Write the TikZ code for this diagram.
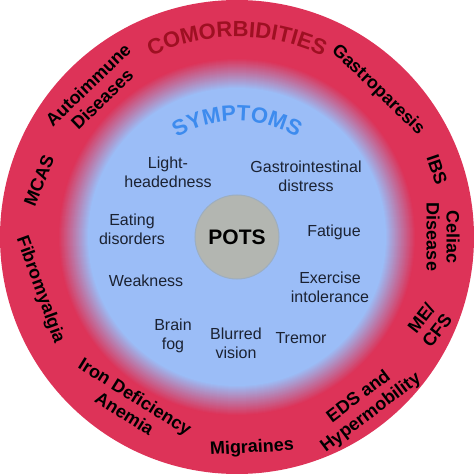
\documentclass[tikz,border=0pt]{standalone}
\usepackage{fontspec}
\setmainfont{Liberation Sans}
\usepackage{tikz}
\usetikzlibrary{decorations.text}

\definecolor{ringred}{HTML}{DD3358}
\definecolor{symblue}{HTML}{9BBDF7}
\definecolor{comred}{HTML}{9E1022}
\definecolor{symtitle}{HTML}{3D8BEE}
\definecolor{potsgray}{HTML}{B3B6B1}
\definecolor{potsedge}{HTML}{9DAEC0}
\definecolor{symtext}{HTML}{1B2232}

\begin{document}
\begin{tikzpicture}[x=1pt,y=1pt,
		comorb/.style={font=\fontsize{18}{20}\selectfont\bfseries, text=black, align=center, inner sep=0pt},
		symptom/.style={font=\fontsize{16}{19}\selectfont, text=symtext, align=center, inner sep=0pt}]
			\useasboundingbox (-237,-237) rectangle (237,237);
			% red ring fading into the blue disc
			\fill[ringred] (0,0) circle (237pt);
			\foreach \r in {179,178,...,149} {
				\pgfmathtruncatemacro\mix{(179-\r)*100/30}
				\fill[symblue!\mix!ringred] (0,0) circle (\r pt);
			}

			% ring titles
			\path[decorate, decoration={text along path, text align=center, text color=comred,
				text format delimiters={|}{|},
				text={|\fontsize{22}{22}\selectfont\bfseries|COMORBIDITIES}}]
				(150:200) arc[start angle=150, end angle=30, radius=200pt];
			\path[decorate, decoration={text along path, text align=center, text color=symtitle,
				text format delimiters={|}{|},
				text={|\fontsize{22}{22}\selectfont\bfseries|SYMPTOMS}}]
				(150:116) arc[start angle=150, end angle=30, radius=116pt];

			% comorbidities
			\node[comorb, rotate=44] (autoimm) at (-142,145) {Autoimmune\\Diseases};
			\node[comorb, rotate=-44] (gastro) at (141,147) {Gastroparesis};
			\node[comorb, rotate=-71] (ibs) at (200,67) {IBS};
			\node[comorb, rotate=-90] (celiac) at (206,0) {Celiac\\Disease};
			\node[comorb, rotate=52] (mecfs) at (192,-87) {ME/\\CFS};
			\node[comorb, rotate=37] (eds) at (128,-168) {EDS and\\Hypermobility};
			\node[comorb, rotate=3] (migraine) at (15,-211) {Migraines};
			\node[comorb, rotate=-32] (iron) at (-107,-168) {Iron Deficiency\\Anemia};
			\node[comorb, rotate=-70] (fibro) at (-197,-53) {Fibromyalgia};
			\node[comorb, rotate=68] (mcas) at (-198,56) {MCAS};

			% center
			\node[circle, fill=potsgray, draw=potsedge, line width=1pt, minimum size=84pt,
				font=\fontsize{21}{21}\selectfont\bfseries] (pots) at (0,0) {POTS};

			% symptoms
			\node[symptom] (light) at (-69,65) {Light-\\headedness};
			\node[symptom] (gastroint) at (69,61) {Gastrointestinal\\distress};
			\node[symptom] (eating) at (-105,8) {Eating\\disorders};
			\node[symptom] (fatigue) at (97,5) {Fatigue};
			\node[symptom] (weak) at (-91,-44) {Weakness};
			\node[symptom] (exercise) at (93,-50) {Exercise\\intolerance};
			\node[symptom] (brain) at (-64,-99) {Brain\\fog};
			\node[symptom] (blurred) at (-1,-106) {Blurred\\vision};
			\node[symptom] (tremor) at (64,-101) {Tremor};
		\end{tikzpicture}
\end{document}
